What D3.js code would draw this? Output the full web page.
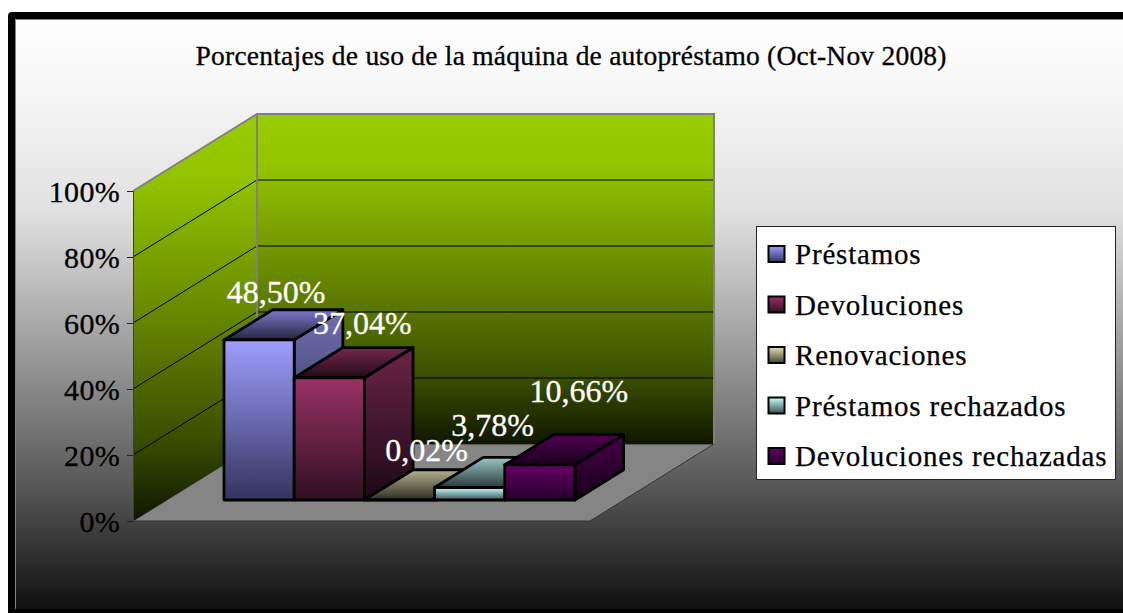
<!DOCTYPE html>
<html><head><meta charset="utf-8">
<script src="https://cdn.jsdelivr.net/npm/d3@7/dist/d3.min.js"></script>
<style>html,body{margin:0;padding:0;background:#fff;overflow:hidden}svg{display:block}text{font-family:"Liberation Serif",serif}</style>
</head><body><div id="c"></div>
<script>
const chartTitle = "Porcentajes de uso de la máquina de autopréstamo (Oct-Nov 2008)";
const categories = ["Préstamos","Devoluciones","Renovaciones","Préstamos rechazados","Devoluciones rechazadas"];
const values = [48.50,37.04,0.02,3.78,10.66];
const valueLabels = ["48,50%","37,04%","0,02%","3,78%","10,66%"];
const ticks = [0,20,40,60,80,100];
const topColors = ["#9e9eff","#993366","#e6e2b8","#c6ffff","#660066"];
const botColors = ["#34345f","#300f22","#45432f","#3c5152","#24002a"];
// label nudges relative to the top of each bar's front face
const labelDx = [17,33,27,23,39];
const labelDy = [-37,-44,-39,-52,-63];

const W=1123,H=613;
const svg=d3.select("#c").append("svg").attr("width",W).attr("height",H);
const defs=svg.append("defs");
function grad(id,stops){const g=defs.append("linearGradient").attr("id",id).attr("x1",0).attr("y1",0).attr("x2",0).attr("y2",1);
  stops.forEach(s=>g.append("stop").attr("offset",s[0]).attr("stop-color",s[1]));}
grad("bg",[[0,"#ffffff"],[0.137,"#f5f5f5"],[0.33,"#e0e0e0"],[0.8,"#555555"],[1,"#101010"]]);
grad("wall",[[0,"#99cc00"],[0.15,"#94c500"],[0.47,"#6a8c00"],[0.8,"#3a4e00"],[1,"#101600"]]);
const shade=(c,k)=>d3.rgb(c).darker(k).formatHex();
categories.forEach((c,i)=>{
  grad("f"+i,[[0,topColors[i]],[1,botColors[i]]]);
  grad("s"+i,[[0,shade(topColors[i],1.0)],[1,shade(botColors[i],1.4)]]);
  grad("t"+i,[[0,shade(topColors[i],0.7)],[1,shade(botColors[i],1.0)]]);
});

// Scales: front plane of the chart, depth as an oblique offset
const x=d3.scaleLinear().domain([0,1]).range([133,590]);
const y=d3.scaleLinear().domain([0,100]).range([521,191]);
const dx=d3.scaleLinear().domain([0,1]).range([0,124]);
const dy=d3.scaleLinear().domain([0,1]).range([0,-77]);
const P=(u,v,d)=>[x(u)+dx(d),y(v)+dy(d)];
const poly=pts=>"M"+pts.map(p=>p.join(",")).join("L")+"Z";
const d0=0.273,d1=0.665;
const band=d3.scaleBand().domain(d3.range(categories.length)).range([224-dx(d0),575-dx(d0)]);

// Background frame
svg.append("rect").attr("x",8).attr("y",12).attr("width",1130).attr("height",620).attr("rx",4).attr("fill","#000");
svg.append("rect").attr("x",15).attr("y",19).attr("width",1120).attr("height",590).attr("fill","url(#bg)");
svg.append("path").attr("d","M15.5,609V19.5H1123").attr("fill","none").attr("stroke","#808080").attr("stroke-width",1);

svg.append("text").attr("x",571).attr("y",65).attr("text-anchor","middle").attr("font-size",27.5).attr("fill","#000").attr("stroke","#000").attr("stroke-width",0.3).attr("textLength",751).text(chartTitle);

// Walls and floor
const gp=svg.append("g");
gp.append("path").attr("d",poly([P(0,0,0),P(1,0,0),P(1,0,1),P(0,0,1)])).attr("fill","#858585").attr("stroke","#333");
gp.append("path").attr("d",poly([P(0,0,0),P(0,100,0),P(0,100,1),P(0,0,1)])).attr("fill","url(#wall)");
gp.append("path").attr("d",poly([P(0,0,1),P(1,0,1),P(1,100,1),P(0,100,1)])).attr("fill","url(#wall)");
ticks.filter(t=>t>0&&t<100).forEach(t=>{
  gp.append("polyline").attr("points",[P(0,t,0),P(0,t,1),P(1,t,1)].map(p=>p.join(",")).join(" ")).attr("fill","none").attr("stroke","#000").attr("stroke-width",1);
});
gp.append("polyline").attr("points",[P(0,100,0),P(0,100,1),P(1,100,1),P(1,0,1)].map(p=>p.join(",")).join(" ")).attr("fill","none").attr("stroke","#808080").attr("stroke-width",2);
gp.append("line").attr("x1",P(0,0,1)[0]).attr("x2",P(0,100,1)[0]).attr("y1",P(0,0,1)[1]).attr("y2",P(0,100,1)[1]).attr("stroke","#808080").attr("stroke-width",2);

// Axis
const axis=d3.axisLeft(y).tickValues(ticks).tickFormat(d=>d+"%").tickSize(6).tickPadding(7);
const ag=svg.append("g").attr("transform",`translate(${x(0)},0)`).call(axis);
ag.select(".domain").attr("stroke","#404040");
ag.selectAll(".tick line").attr("stroke","#222");
ag.selectAll("text").attr("font-size",30).attr("letter-spacing",0.3).attr("fill","#000").attr("stroke","#000").attr("stroke-width",0.3).attr("y",1).style("font-family",'"Liberation Serif",serif');

// Bars
categories.forEach((c,i)=>{
  const bx0=band(i),bx1=bx0+band.bandwidth();
  const u0=x.invert(bx0),u1=x.invert(bx1);
  const g=svg.append("g").attr("stroke","#000").attr("stroke-width",2.8).attr("stroke-linejoin","round");
  const v=values[i];
  g.append("path").attr("d",poly([P(u1,0,d0),P(u1,v,d0),P(u1,v,d1),P(u1,0,d1)])).attr("fill",`url(#s${i})`);
  g.append("path").attr("d",poly([P(u0,v,d0),P(u1,v,d0),P(u1,v,d1),P(u0,v,d1)])).attr("fill",`url(#t${i})`);
  g.append("path").attr("d",poly([P(u0,0,d0),P(u1,0,d0),P(u1,v,d0),P(u0,v,d0)])).attr("fill",`url(#f${i})`);
});

// Data labels
categories.forEach((c,i)=>{
  const u=x.invert(band(i)+band.bandwidth()/2);
  const p=P(u,values[i],d0);
  svg.append("text").attr("x",p[0]+labelDx[i]).attr("y",p[1]+labelDy[i]).attr("text-anchor","middle").attr("font-size",32).attr("fill","#fff").attr("stroke","#fff").attr("stroke-width",0.3).text(valueLabels[i]);
});

// Legend
const lg=svg.append("g");
lg.append("rect").attr("x",756.5).attr("y",226.5).attr("width",359).attr("height",253).attr("fill","#fff").attr("stroke","#222");
const ly=d3.scalePoint().domain(d3.range(5)).range([254,456]);
categories.forEach((c,i)=>{
  lg.append("rect").attr("x",768.5).attr("y",ly(i)-8).attr("width",16).attr("height",16).attr("fill",`url(#f${i})`).attr("stroke","#000").attr("stroke-width",2);
  lg.append("text").attr("x",795).attr("y",ly(i)+10).attr("font-size",29).attr("letter-spacing",0.8).attr("fill","#000").attr("stroke","#000").attr("stroke-width",0.25).text(c);
});
</script></body></html>
